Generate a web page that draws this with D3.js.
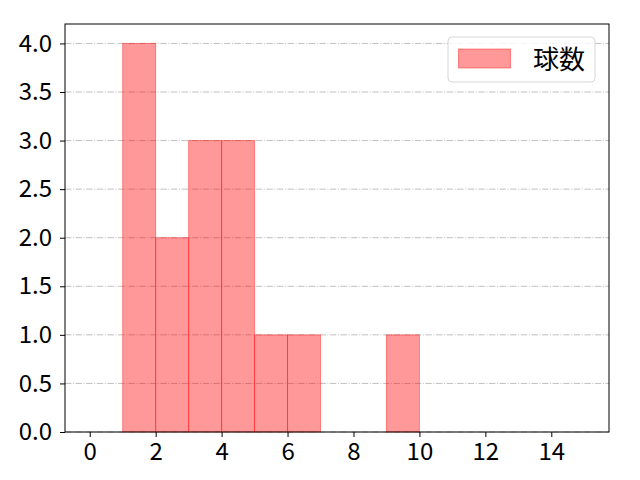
<!DOCTYPE html>
<html>
<head>
<meta charset="utf-8">
<script src="https://cdn.jsdelivr.net/npm/d3@7"></script>
<style>
  body { margin: 0; background: #fff; }
  text { font-family: "Noto Sans CJK JP", "Noto Sans", sans-serif; }
</style>
</head>
<body>
<div id="chart"></div>
<script>
// Histogram bins (left edges, width 1) and counts
const binStarts = [0, 1, 2, 3, 4, 5, 6, 7, 8, 9, 10, 11, 12, 13, 14];
const counts = [0, 4, 2, 3, 3, 1, 1, 0, 0, 1, 0, 0, 0, 0, 0];
const seriesName = "球数";
const xTicks = [0, 2, 4, 6, 8, 10, 12, 14];
const yTicks = [0, 0.5, 1.0, 1.5, 2.0, 2.5, 3.0, 3.5, 4.0];

const W = 640, H = 480;
const margin = {top: 24, right: 31, bottom: 48, left: 65};
const width = W - margin.left - margin.right;
const height = H - margin.top - margin.bottom;

const svg = d3.select("#chart")
    .append("svg")
    .attr("width", W)
    .attr("height", H);

const g = svg.append("g")
    .attr("transform", `translate(${margin.left},${margin.top})`);

const x = d3.scaleLinear().domain([-0.75, 15.75]).range([0, width]);
const y = d3.scaleLinear().domain([0, 4.2]).range([height, 0]);

// Horizontal grid
g.append("g")
    .selectAll("line")
    .data(yTicks)
    .join("line")
    .attr("x1", 0)
    .attr("x2", width)
    .attr("y1", d => y(d))
    .attr("y2", d => y(d))
    .attr("stroke", "#b0b0b0")
    .attr("stroke-width", 0.8)
    .attr("stroke-dasharray", "6.4,1.6,1,1.6");

// Bars
g.append("g")
    .selectAll("rect")
    .data(binStarts.map((s, i) => ({x0: s, x1: s + 1, n: counts[i]})))
    .join("rect")
    .attr("x", d => x(d.x0))
    .attr("y", d => y(d.n))
    .attr("width", d => x(d.x1) - x(d.x0))
    .attr("height", d => y(0) - y(d.n))
    .attr("fill", "rgba(255,0,0,0.4)")
    .attr("stroke", "rgba(255,0,0,0.4)")
    .attr("stroke-width", 1);

// Axes
const xAxis = g.append("g")
    .attr("transform", `translate(0,${height})`)
    .call(d3.axisBottom(x).tickValues(xTicks).tickSize(5).tickPadding(6).tickFormat(d3.format("d")));

const yAxis = g.append("g")
    .call(d3.axisLeft(y).tickValues(yTicks).tickSize(5).tickPadding(8).tickFormat(d3.format(".1f")));

[xAxis, yAxis].forEach(a => {
    a.select(".domain").remove();
    a.attr("font-size", null).attr("font-family", null);
    a.selectAll("text")
        .style("font-size", "24px")
        .attr("fill", "#000");
    a.selectAll("line").attr("stroke", "#000");
});

// Frame
g.append("rect")
    .attr("x", 0)
    .attr("y", 0)
    .attr("width", width)
    .attr("height", height)
    .attr("fill", "none")
    .attr("stroke", "#000")
    .attr("stroke-width", 1);

// Legend
const fs = 26;
const legW = 147, legH = 45;
const legend = g.append("g")
    .attr("transform", `translate(${width - 14 - legW},13)`);

legend.append("rect")
    .attr("width", legW)
    .attr("height", legH)
    .attr("rx", 4)
    .attr("fill", "rgba(255,255,255,0.8)")
    .attr("stroke", "#d6d6d6");

legend.append("rect")
    .attr("x", 10.5)
    .attr("y", 12)
    .attr("width", 52)
    .attr("height", 19)
    .attr("fill", "rgba(255,0,0,0.4)")
    .attr("stroke", "rgba(255,0,0,0.4)");

legend.append("text")
    .attr("x", 85)
    .attr("y", legH / 2)
    .attr("dy", "0.35em")
    .style("font-size", fs + "px")
    .attr("fill", "#000")
    .text(seriesName);
</script>
</body>
</html>
